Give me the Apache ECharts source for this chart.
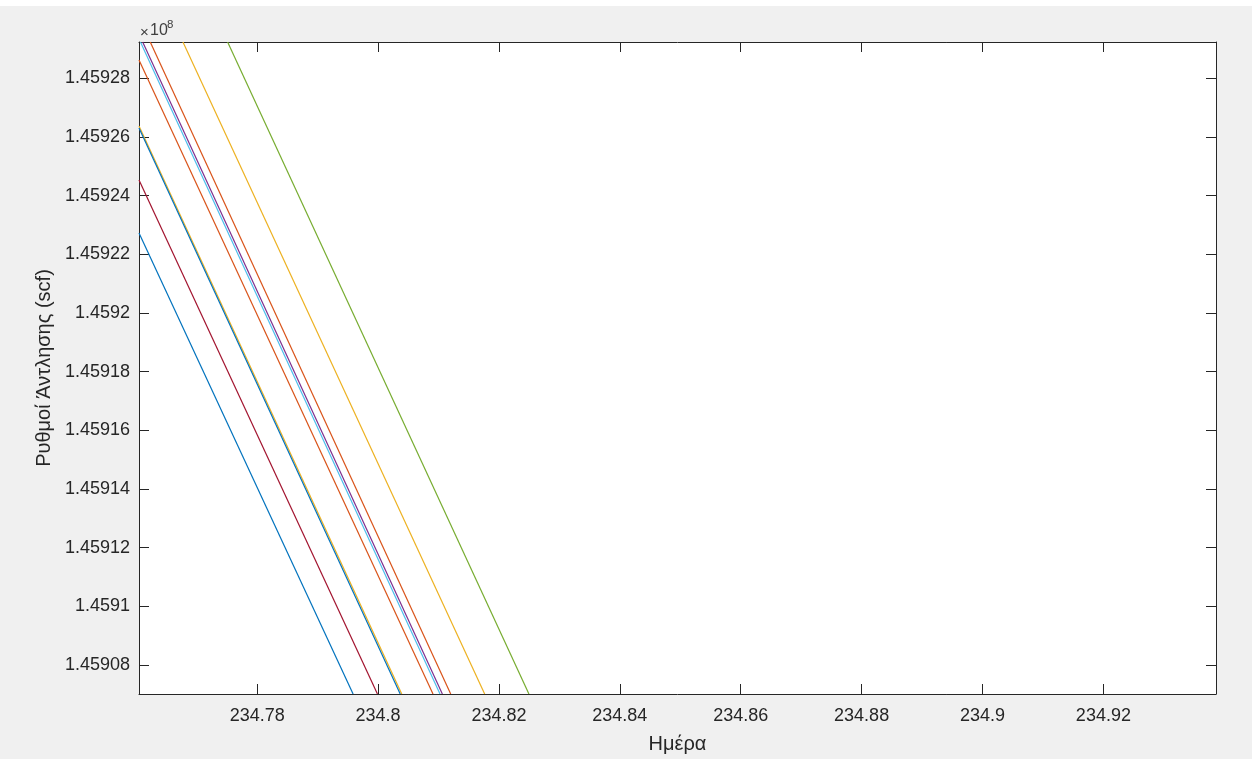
<!DOCTYPE html>
<html>
<head>
<meta charset="utf-8">
<script src="https://cdn.jsdelivr.net/npm/echarts@6/dist/echarts.min.js"></script>
<style>
html,body{margin:0;padding:0;background:#f0f0f0;}
#c{width:1252px;height:759px;}
</style>
</head>
<body>
<div id="c"></div>
<script>
// ---- data ----
const xLimits = [234.76045, 234.93863];
const yLimits = [145907010, 145929240];
const xTicks = [234.78, 234.8, 234.82, 234.84, 234.86, 234.88, 234.9, 234.92];
const yTicks = [145908000, 145910000, 145912000, 145914000, 145916000, 145918000, 145920000, 145922000, 145924000, 145926000, 145928000];

const series1 = [[234.76045, 145922726], [234.79587, 145907010]];
const series2 = [[234.76045, 145928624], [234.80909, 145907010]];
const series3 = [[234.76045, 145926374], [234.80392, 145907010]];
const series4 = [[234.76106, 145929240], [234.81064, 145907010]];
const series5 = [[234.77511, 145929240], [234.82496, 145907010]];
const series6 = [[234.76069, 145929240], [234.81025, 145907010]];
const series7 = [[234.76045, 145924533], [234.79990, 145907010]];
const series8 = [[234.76045, 145926306], [234.80367, 145907010]];
const series9 = [[234.76231, 145929240], [234.81202, 145907010]];
const series10 = [[234.76772, 145929240], [234.81764, 145907010]];

const allSeries = [series1, series2, series3, series4, series5, series6, series7, series8, series9, series10];
const colors = ['#0072BD', '#D95319', '#EDB120', '#7E2F8E', '#77AC30', '#4DBEEE', '#A2142F', '#0072BD', '#D95319', '#EDB120'];

const axisColor = '#262626';
const FONT = 'Liberation Sans';

const chart = echarts.init(document.getElementById('c'), null, {renderer: 'canvas'});

function xAxisBase(pos, showLabel) {
  return {
    type: 'value', position: pos, min: xLimits[0], max: xLimits[1],
    axisLine: {show: true, onZero: false, lineStyle: {color: axisColor, width: 1}},
    axisTick: {show: true, inside: true, length: 10, customValues: xTicks, lineStyle: {color: axisColor, width: 1}},
    axisLabel: {show: showLabel, customValues: xTicks, margin: 13, color: axisColor, fontSize: 18, fontFamily: FONT,
      formatter: v => String(Number(v.toFixed(2)))},
    splitLine: {show: false}
  };
}
function yAxisBase(pos, showLabel) {
  return {
    type: 'value', position: pos, min: yLimits[0], max: yLimits[1],
    axisLine: {show: true, onZero: false, lineStyle: {color: axisColor, width: 1}},
    axisTick: {show: true, inside: true, length: 10, customValues: yTicks, lineStyle: {color: axisColor, width: 1}},
    axisLabel: {show: showLabel, customValues: yTicks, margin: 9, color: axisColor, fontSize: 18, fontFamily: FONT,
      formatter: v => String(Math.round(v / 1000) / 100000)},
    splitLine: {show: false}
  };
}

const xMain = xAxisBase('bottom', true);
xMain.name = 'Ημέρα';
xMain.nameLocation = 'middle';
xMain.nameGap = 40;
xMain.nameTextStyle = {color: axisColor, fontSize: 20, fontFamily: FONT};

const yMain = yAxisBase('left', true);
yMain.name = 'Ρυθμοί Άντλησης (scf)';
yMain.nameLocation = 'middle';
yMain.nameGap = 82;
yMain.nameTextStyle = {color: axisColor, fontSize: 20, fontFamily: FONT};

const option = {
  backgroundColor: '#f0f0f0',
  animation: false,
  grid: {left: 139, right: 36, top: 42, bottom: 65, show: true, backgroundColor: '#ffffff', borderWidth: 0},
  xAxis: [xMain, xAxisBase('top', false)],
  yAxis: [yMain, yAxisBase('right', false)],
  graphic: [
    {type: 'rect', left: 0, top: 0, shape: {width: 1252, height: 6}, style: {fill: '#ffffff'}, silent: true},
    {type: 'text', x: 140, y: 33, style: {text: '×', fontSize: 15, fontFamily: FONT, fill: '#404040', verticalAlign: 'middle'}},
    {type: 'text', x: 150, y: 31, style: {text: '10', fontSize: 16, fontFamily: FONT, fill: '#404040', verticalAlign: 'middle'}},
    {type: 'text', x: 167, y: 25, style: {text: '8', fontSize: 11.5, fontFamily: FONT, fill: '#404040', verticalAlign: 'middle'}}
  ],
  series: allSeries.map((d, i) => ({
    type: 'line', data: d, showSymbol: false, clip: true, silent: true,
    lineStyle: {color: colors[i], width: 1.2}, itemStyle: {color: colors[i]}
  }))
};
chart.setOption(option);
</script>
</body>
</html>
